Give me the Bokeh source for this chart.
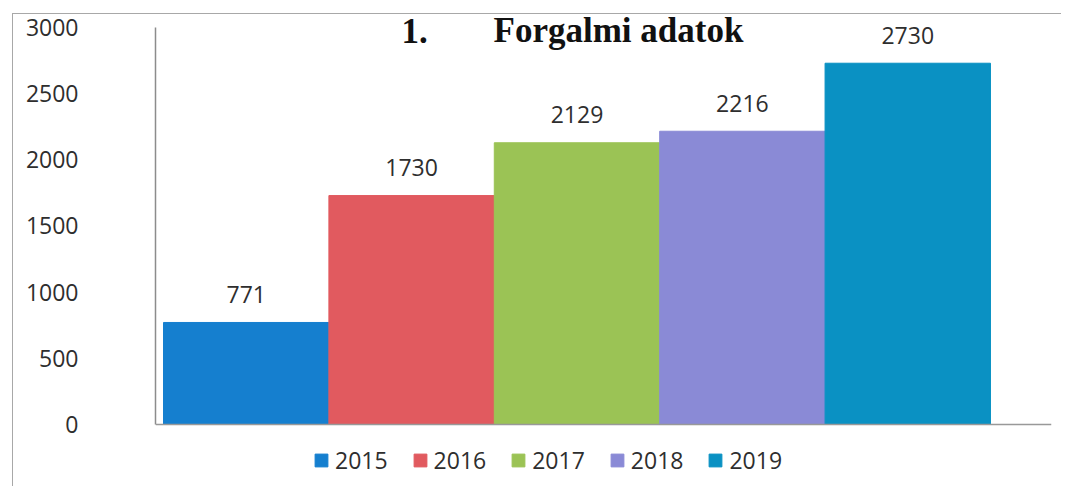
from bokeh.plotting import figure
from bokeh.models import (ColumnDataSource, Range1d, FixedTicker, LinearAxis, Label, Span,
                          InlineStyleSheet)
from bokeh.core.properties import value
from bokeh.embed import file_html
from bokeh.resources import INLINE

# ---- data ----
years = ["2015", "2016", "2017", "2018", "2019"]
values = [771, 1730, 2129, 2216, 2730]
colors = ["#157fcf", "#e15a5f", "#9bc355", "#8a8ad6", "#0a91c3"]
y_ticks = [0, 500, 1000, 1500, 2000, 2500, 3000]
title_num = "1."
title_text = "Forgalmi adatok"

pos = list(range(len(years)))
src = ColumnDataSource(dict(x=pos, top=values, year=years, color=colors,
                            label=[str(v) for v in values]))

FONT = "Open Sans"
TXT = "#2e2e2e"

# frame fills the canvas vertically; value axis 0..3000 drawn with bounds
p = figure(width=1061, height=486, output_backend="svg", toolbar_location=None,
           x_range=Range1d(-0.5484, 4.869), y_range=Range1d(-468.5, 3204.0),
           min_border_left=155, min_border_right=10, min_border_top=0, min_border_bottom=0,
           x_axis_type=None, y_axis_type=None)
p.outline_line_color = None
p.background_fill_color = "white"
p.border_fill_color = "white"

yaxis = LinearAxis(ticker=FixedTicker(ticks=y_ticks), bounds=(0, 3000))
yaxis.axis_line_color = "#8c8c8c"
yaxis.axis_line_width = 1.5
yaxis.major_tick_line_color = None
yaxis.minor_tick_line_color = None
yaxis.major_tick_out = 0
yaxis.major_tick_in = 0
yaxis.major_label_standoff = 77
yaxis.major_label_text_font = FONT
yaxis.major_label_text_font_size = "23px"
yaxis.major_label_text_color = TXT
p.add_layout(yaxis, "left")

# category baseline
p.add_layout(Span(location=0, dimension="width", line_color="#999999", line_width=1.5))

p.vbar(x="x", top="top", bottom=0, width=1.0, fill_color="color", line_color="color",
       source=src, legend_field="year")

p.text(x="x", y="top", text="label", source=src, text_align="center",
       text_baseline="alphabetic", y_offset=-28, text_font=value(FONT),
       text_font_size="23px", text_color=TXT)

leg = p.legend[0]
leg.orientation = "horizontal"
leg.location = (158, 10)
leg.glyph_width = 16
leg.glyph_height = 16
leg.label_standoff = 6
leg.spacing = 24
leg.padding = 0
leg.margin = 0
leg.border_line_color = None
leg.background_fill_alpha = 0
leg.label_text_font = FONT
leg.label_text_font_size = "23px"
leg.label_text_color = TXT

# title
p.add_layout(Label(x=246, y=456, x_units="screen", y_units="screen", text=title_num,
                   text_font="Liberation Serif", text_font_style="bold",
                   text_font_size="35px", text_color="#111111", text_baseline="alphabetic"))
p.add_layout(Label(x=338, y=456, x_units="screen", y_units="screen", text=title_text,
                   text_font="Liberation Serif", text_font_style="bold",
                   text_font_size="35px", text_color="#111111", text_baseline="alphabetic"))

# outer chart border (left and top edges)
p.stylesheets = [InlineStyleSheet(css=(
    ":host { position: relative; }"
    ":host::after { content: ''; position: absolute; left: 12px; top: 13px; right: 0; bottom: 0;"
    " border-left: 1px solid #a8a8a8; border-top: 1px solid #a8a8a8;"
    " pointer-events: none; z-index: 100; }"))]

open("out.html", "w").write(file_html(p, INLINE))
